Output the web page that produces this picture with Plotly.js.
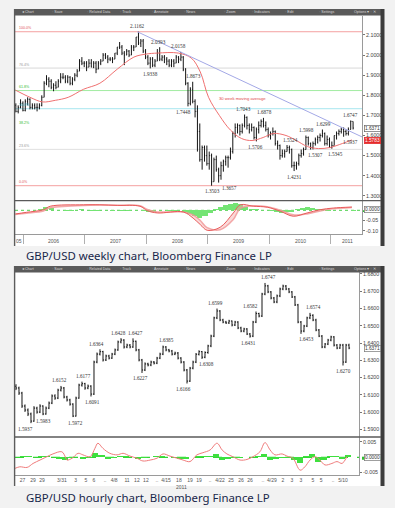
<!DOCTYPE html>
<html><head><meta charset="utf-8">
<script src="https://cdn.plot.ly/plotly-3.0.1.min.js"></script>
<style>html,body{margin:0;padding:0;background:#f2f2f2;}#c{width:395px;height:508px;}</style>
</head><body><div id="c"></div>
<script>
// ---------- WEEKLY (bi-weekly bars) ----------
const wStartDate = '2005-11-18';
const wOpen = [1.75,1.72,1.74,1.76,1.725,1.77,1.78,1.74,1.75,1.74,
1.74,1.75,1.79,1.86,1.88,1.87,1.84,1.85,1.84,1.87,
1.89,1.89,1.87,1.89,1.86,1.88,1.90,1.92,1.97,1.96,
1.96,1.94,1.96,1.94,1.96,1.93,1.96,1.97,2.00,1.99,
1.98,1.98,1.98,2.01,2.04,2.04,2.01,2.00,2.02,2.00,
2.04,2.04,2.09,2.06,2.07,2.02,1.99,1.96,1.98,1.95,
1.97,2.01,1.98,1.99,1.98,1.97,1.95,1.97,1.96,1.99,
1.98,1.99,1.93,1.86,1.76,1.83,1.77,1.72,1.62,1.48,
1.54,1.50,1.46,1.50,1.37,1.48,1.43,1.40,1.45,1.47,
1.49,1.49,1.52,1.61,1.64,1.65,1.62,1.65,1.69,1.65,
1.63,1.64,1.59,1.63,1.65,1.67,1.65,1.63,1.60,1.61,
1.62,1.56,1.55,1.50,1.51,1.52,1.54,1.53,1.45,1.45,
1.46,1.50,1.51,1.53,1.59,1.56,1.54,1.56,1.58,1.59,
1.60,1.61,1.56,1.58,1.54,1.55,1.60,1.61,1.62,1.63,
1.62,1.61,1.63,1.67];
const wHigh = [1.76,1.75,1.78,1.77,1.78,1.79,1.785,1.76,1.76,1.76,
1.76,1.80,1.87,1.90,1.89,1.88,1.86,1.87,1.88,1.91,
1.91,1.90,1.90,1.895,1.89,1.91,1.93,1.98,1.99,1.97,
1.97,1.98,1.98,1.97,1.97,1.97,1.98,2.01,2.01,2.00,
1.99,1.99,2.01,2.04,2.065,2.05,2.02,2.03,2.025,2.05,
2.05,2.09,2.1162,2.08,2.08,2.03,2.00,1.99,1.99,1.98,
2.03,2.0393,2.00,2.00,1.99,1.98,1.98,1.98,2.00,1.995,
2.0158,1.995,1.935,1.865,1.84,1.8673,1.78,1.75,1.66,1.55,
1.55,1.55,1.52,1.51,1.49,1.50,1.44,1.47,1.48,1.50,
1.50,1.54,1.62,1.66,1.66,1.655,1.66,1.7043,1.695,1.66,
1.66,1.645,1.64,1.67,1.68,1.6878,1.67,1.64,1.62,1.64,
1.625,1.575,1.555,1.53,1.53,1.5524,1.55,1.535,1.47,1.47,
1.51,1.53,1.54,1.5998,1.595,1.565,1.57,1.59,1.60,1.61,
1.6299,1.615,1.60,1.59,1.57,1.60,1.62,1.63,1.64,1.64,
1.63,1.64,1.6747,1.67];
const wLow = [1.715,1.71,1.735,1.72,1.72,1.75,1.73,1.73,1.73,1.72,
1.73,1.745,1.79,1.85,1.84,1.83,1.82,1.83,1.84,1.86,
1.88,1.86,1.86,1.85,1.85,1.87,1.89,1.92,1.95,1.94,
1.92,1.94,1.94,1.935,1.91,1.93,1.95,1.97,1.98,1.96,
1.97,1.96,1.98,2.00,2.03,2.00,1.95,2.00,1.99,2.00,
2.02,2.04,2.05,2.04,2.01,1.98,1.95,1.9338,1.94,1.94,
1.97,1.97,1.97,1.96,1.95,1.94,1.94,1.94,1.96,1.96,
1.97,1.92,1.85,1.7448,1.75,1.76,1.69,1.52,1.47,1.43,
1.47,1.45,1.43,1.3503,1.37,1.42,1.3657,1.38,1.42,1.45,
1.44,1.48,1.51,1.59,1.61,1.60,1.61,1.64,1.63,1.61,
1.62,1.58,1.5706,1.61,1.64,1.64,1.62,1.59,1.58,1.60,
1.55,1.53,1.48,1.49,1.49,1.52,1.51,1.44,1.4231,1.43,
1.45,1.49,1.50,1.53,1.55,1.53,1.5307,1.55,1.56,1.57,
1.59,1.55,1.55,1.54,1.5345,1.55,1.58,1.60,1.61,1.5937,
1.60,1.60,1.63,1.63];
const wClose = [1.72,1.74,1.76,1.725,1.77,1.78,1.74,1.75,1.74,1.74,
1.75,1.79,1.86,1.88,1.87,1.84,1.85,1.84,1.87,1.89,
1.89,1.87,1.89,1.86,1.88,1.90,1.92,1.97,1.96,1.96,
1.94,1.96,1.94,1.96,1.93,1.96,1.97,2.00,1.99,1.98,
1.98,1.98,2.01,2.04,2.04,2.01,2.00,2.02,2.00,2.04,
2.04,2.09,2.06,2.07,2.02,1.99,1.96,1.98,1.95,1.97,
2.01,1.98,1.99,1.98,1.97,1.95,1.97,1.96,1.99,1.98,
1.99,1.93,1.86,1.76,1.83,1.77,1.72,1.62,1.48,1.54,
1.50,1.46,1.50,1.37,1.48,1.43,1.40,1.45,1.47,1.49,
1.49,1.52,1.61,1.64,1.65,1.62,1.65,1.69,1.65,1.63,
1.64,1.59,1.63,1.65,1.67,1.65,1.63,1.60,1.61,1.62,
1.56,1.55,1.50,1.51,1.52,1.54,1.53,1.45,1.45,1.46,
1.50,1.51,1.53,1.59,1.56,1.54,1.56,1.58,1.59,1.60,
1.61,1.56,1.58,1.54,1.55,1.60,1.61,1.62,1.63,1.62,
1.61,1.63,1.67,1.6371];

// 30 week moving average
const maDates = ['2005-11-15','2006-02-10','2006-04-25','2006-07-10','2006-09-25','2006-12-25','2007-04-01','2007-07-13','2007-10-20','2007-12-31','2008-03-08','2008-07-10','2008-09-25','2008-11-17','2009-01-05','2009-03-10','2009-05-15','2009-07-20','2009-09-20','2009-11-25','2010-01-25','2010-04-10','2010-06-10','2010-08-15','2010-10-20','2010-12-25','2011-03-10','2011-05-06'];
const maVals = [1.826,1.79,1.767,1.775,1.79,1.83,1.86,1.93,1.99,2.005,2.01,2.01,1.985,1.916,1.79,1.70,1.627,1.585,1.575,1.59,1.61,1.60,1.575,1.545,1.535,1.54,1.56,1.578];

// trend line from the 2.1162 top
const trendDates = ['2007-11-09','2011-07-05'];
const trendVals = [2.1162,1.593];

// Fibonacci retracement
const fibHigh = 2.1162, fibLow = 1.3503;
const fibRatios = [1,0.764,0.618,0.5,0.382,0.236,0];
const fibNames = ['100.0%','76.4%','61.8%','50.0%','38.2%','23.6%','0.0%'];

// weekly oscillator
const wOscDates = ['2005-11-15','2006-01-20','2006-05-01','2006-06-10','2006-12-25','2007-04-01','2007-07-13','2007-11-25','2008-01-08','2008-03-08','2008-08-08','2008-10-05','2008-11-17','2008-12-28','2009-03-15','2009-06-01','2009-07-13','2009-09-28','2009-12-20','2010-03-08','2010-05-23','2010-08-13','2010-10-30','2011-01-15','2011-05-06'];
const wMacd = [-0.018,-0.010,0.003,0.020,0.027,0.027,0.024,0.020,-0.002,-0.013,-0.008,-0.038,-0.070,-0.098,-0.083,-0.013,0.027,0.020,0.015,-0.005,-0.029,-0.013,0.003,0.011,0.016];
const wSignal = [-0.020,-0.014,-0.003,0.012,0.024,0.026,0.025,0.022,0.004,-0.008,-0.008,-0.022,-0.050,-0.085,-0.095,-0.045,0.010,0.022,0.017,0.000,-0.022,-0.018,-0.003,0.007,0.014];
const wHistStart = '2005-12-15';
const wHist = [0.002,0.003,0.002,0.002,0.006,0.015,0.012,0.003,0.002,-0.001,-0.002,0.002,0.004,
0.001,-0.002,-0.002,0.002,0.000,-0.002,0.003,-0.002,-0.001,0.002,0.003,-0.004,
-0.008,-0.006,0.000,0.001,-0.002,-0.001,0.001,-0.008,-0.018,-0.030,-0.038,-0.030,
-0.012,0.005,0.014,0.024,0.032,0.036,0.030,0.018,0.008,0.004,0.003,0.001,
-0.003,-0.008,-0.012,-0.010,-0.006,0.004,0.012,0.018,0.010,0.006,0.004,-0.002,
0.002,0.003,0.001,0.002,-0.002];

const wLblText = ['2.1162','2.0393','2.0158','1.9338','1.8673','1.7448','1.3503','1.3657','1.7043','1.6878','1.5706','1.5524','1.4231','1.5998','1.5307','1.6299','1.5345','1.5937','1.6747'];
const wLblDate = ['2007-11-09','2008-03-14','2008-07-18','2008-01-22','2008-09-26','2008-09-10','2009-01-23','2009-03-02','2009-08-05','2009-11-16','2009-10-08','2010-04-15','2010-05-20','2010-08-09','2010-09-07','2010-11-04','2011-01-10','2011-03-17','2011-04-28'];
const wLblSide = ['a','a','a','b','a','b','b','b','a','a','b','a','b','a','b','a','b','b','a'];
const wLblDx = [0,0,-1,1,2,-5,1,12,-1,3,0,4,2,0,4,2,3,7,0];

const wLastClose = 1.6371, wLastMA = 1.5783;

// ---------- HOURLY ----------
const hOpen = [1.6150,1.6140,1.6111,1.6036,1.6013,1.5990,1.5949,1.6024,1.6001,1.6036,
1.5990,1.6024,1.6053,1.6094,1.6082,1.6128,1.6140,1.6088,1.6071,1.6047,
1.5978,1.6082,1.6157,1.6165,1.6140,1.6151,1.6105,1.6290,1.6336,1.6350,
1.6302,1.6325,1.6313,1.6336,1.6360,1.6406,1.6417,1.6377,1.6388,1.6377,
1.6410,1.6360,1.6302,1.6244,1.6279,1.6273,1.6290,1.6284,1.6313,1.6336,
1.6377,1.6360,1.6354,1.6336,1.6342,1.6313,1.6290,1.6244,1.6180,1.6255,
1.6290,1.6335,1.6350,1.6318,1.6345,1.6383,1.6440,1.6545,1.6585,1.6533,
1.6521,1.6516,1.6527,1.6504,1.6521,1.6487,1.6469,1.6481,1.6452,1.6440,
1.6521,1.6570,1.6556,1.6683,1.6730,1.6695,1.6660,1.6637,1.6672,1.6712,
1.6729,1.6712,1.6695,1.6666,1.6620,1.6521,1.6469,1.6498,1.6545,1.6560,
1.6533,1.6475,1.6440,1.6377,1.6394,1.6417,1.6435,1.6388,1.6371,1.6388,
1.6290,1.6388];
const hHigh = [1.6162,1.6148,1.6118,1.6045,1.6022,1.5998,1.6035,1.6032,1.6046,1.6040,
1.6033,1.6062,1.6103,1.6104,1.6136,1.6152,1.6146,1.6095,1.6078,1.6052,
1.6090,1.6165,1.6177,1.6170,1.6160,1.6156,1.6298,1.6345,1.6364,1.6355,
1.6333,1.6332,1.6343,1.6368,1.6414,1.6428,1.6422,1.6396,1.6394,1.6427,
1.6414,1.6366,1.6308,1.6288,1.6286,1.6298,1.6296,1.6320,1.6344,1.6385,
1.6382,1.6366,1.6360,1.6350,1.6348,1.6318,1.6295,1.6250,1.6262,1.6298,
1.6342,1.6358,1.6354,1.6352,1.6390,1.6448,1.6552,1.6599,1.6590,1.6540,
1.6528,1.6534,1.6530,1.6528,1.6526,1.6494,1.6488,1.6486,1.6458,1.6528,
1.6582,1.6575,1.6690,1.6747,1.6736,1.6700,1.6666,1.6680,1.6720,1.6737,
1.6735,1.6718,1.6700,1.6672,1.6626,1.6527,1.6505,1.6552,1.6574,1.6566,
1.6540,1.6481,1.6446,1.6400,1.6424,1.6442,1.6440,1.6394,1.6395,1.6395,
1.6395,1.6396];
const hLow = [1.6128,1.6100,1.6025,1.6002,1.5978,1.5937,1.5945,1.5992,1.5995,1.5983,
1.5986,1.6018,1.6047,1.6072,1.6076,1.6120,1.6080,1.6062,1.6038,1.5972,
1.5975,1.6078,1.6148,1.6130,1.6133,1.6091,1.6100,1.6283,1.6328,1.6293,
1.6296,1.6305,1.6308,1.6330,1.6355,1.6398,1.6368,1.6370,1.6369,1.6372,
1.6352,1.6294,1.6227,1.6238,1.6265,1.6266,1.6276,1.6278,1.6307,1.6330,
1.6352,1.6346,1.6328,1.6330,1.6305,1.6282,1.6236,1.6166,1.6175,1.6248,
1.6284,1.6328,1.6308,1.6312,1.6338,1.6376,1.6434,1.6538,1.6526,1.6514,
1.6510,1.6510,1.6496,1.6498,1.6480,1.6462,1.6462,1.6446,1.6431,1.6434,
1.6515,1.6548,1.6550,1.6676,1.6688,1.6652,1.6630,1.6630,1.6665,1.6705,
1.6705,1.6688,1.6660,1.6614,1.6514,1.6453,1.6462,1.6492,1.6538,1.6526,
1.6468,1.6434,1.6370,1.6370,1.6388,1.6410,1.6380,1.6364,1.6366,1.6270,
1.6285,1.6364];
const hClose = [1.6140,1.6111,1.6036,1.6013,1.5990,1.5949,1.6024,1.6001,1.6036,1.5990,
1.6024,1.6053,1.6094,1.6082,1.6128,1.6140,1.6088,1.6071,1.6047,1.5978,
1.6082,1.6157,1.6165,1.6140,1.6151,1.6105,1.6290,1.6336,1.6350,1.6302,
1.6325,1.6313,1.6336,1.6360,1.6406,1.6417,1.6377,1.6388,1.6377,1.6410,
1.6360,1.6302,1.6244,1.6279,1.6273,1.6290,1.6284,1.6313,1.6336,1.6377,
1.6360,1.6354,1.6336,1.6342,1.6313,1.6290,1.6244,1.6180,1.6255,1.6290,
1.6335,1.6350,1.6318,1.6345,1.6383,1.6440,1.6545,1.6585,1.6533,1.6521,
1.6516,1.6527,1.6504,1.6521,1.6487,1.6469,1.6481,1.6452,1.6440,1.6521,
1.6570,1.6556,1.6683,1.6730,1.6695,1.6660,1.6637,1.6672,1.6712,1.6729,
1.6712,1.6695,1.6666,1.6620,1.6521,1.6469,1.6498,1.6545,1.6560,1.6533,
1.6475,1.6440,1.6377,1.6394,1.6417,1.6435,1.6388,1.6371,1.6388,1.6290,
1.6388,1.6371];

const hTickPos = [2.2,5.7,8.7,15.3,19.9,23.3,26,29.7,32.7,37,40.3,43.3,47,50,54.3,58,61,64.7,68,71.7,75,78,82.3,85.3,89,92,95,99,101.7,105.7,109];
const hTickText = ['27','29','29','3/31','3','5','6','..','4/8','11','12','12','..','4/15','18','19','19','..','4/22','25','26','26','..','4/29','2','3','3','5','5','..','5/10'];

const hLblText = ['1.5937','1.5983','1.6152','1.5972','1.6177','1.6091','1.6364','1.6428','1.6427','1.6227','1.6385','1.6166','1.6308','1.6599','1.6431','1.6582','1.6747','1.6453','1.6574','1.6270'];
const hLblIdx = [5,9,15,19,22,25,28,35,39,42,49,57,62,67,78,80,83,95,98,109];
const hLblSide = ['b','b','a','b','a','b','a','a','a','b','a','b','b','a','b','a','a','b','a','b'];
const hLblDx = [-5,1,-1,3,2,2,-3,-3,2,-2,3,-4,4,-2,-2,-6,3,5,3,0];

const hRedX = [-0.3,1.3,3.7,5.7,8,10.3,12.3,15.3,16.5,17,18.7,20.7,22.3,24.7,26.3,27.3,29,31.3,33.7,35.7,38,40.3,42.3,44.7,47,49,51.3,53.7,55.7,58,60.3,62.3,64.7,67,68.7,70.3,72.3,74.7,77,79,81.3,83,84.7,86.3,88.7,90.3,92.3,94.7,96.3,98,99.7,101.3,103,105.3,107,108.7,110.3];
const hRedY = [-0.0036,-0.0031,-0.0033,-0.0020,-0.0009,0.0002,0.0011,0.0018,0.0000,-0.0009,-0.0003,0.0013,0.0008,0.0002,0.0029,0.0046,0.0029,0.0013,0.0008,0.0013,0.0004,-0.0003,-0.0012,-0.0009,-0.0003,0.0011,0.0004,-0.0003,-0.0009,-0.0014,0.0008,0.0015,0.0024,0.0046,0.0024,0.0011,0.0002,-0.0009,-0.0007,0.0002,0.0018,0.0048,0.0024,0.0008,0.0011,0.0004,-0.0003,-0.0042,-0.0031,-0.0009,0.0002,-0.0009,-0.0025,-0.0020,-0.0014,-0.0020,0.0002];
const hHist = [0.0002,0.0004,0.0004,0.0002,0.0003,0.0003,0.0001,-0.0004,-0.0008,-0.0003,
0.0002,-0.0004,-0.0002,0.0014,0.0006,-0.0005,-0.0003,0.0003,0.0004,0.0001,
-0.0005,-0.0003,0.0002,0.0003,0.0004,0.0002,-0.0002,-0.0004,-0.0005,0.0002,
0.0003,0.0004,0.0005,0.0011,-0.0009,-0.0004,-0.0003,-0.0002,0.0001,0.0002,
0.0005,0.0012,-0.0010,-0.0004,-0.0002,-0.0002,-0.0008,-0.0018,0.0004,0.0012,
-0.0014,-0.0008,0.0005,0.0003,-0.0004,0.0006];
const hLastClose = 1.6371;

// ---------- build ----------
const W = 395, H = 508;
const px = v => v / W, py = v => 1 - v / H;
const addDays = (s, d) => { const t = new Date(s + 'T00:00:00Z'); t.setUTCDate(t.getUTCDate() + d); return t.toISOString().slice(0, 10); };
const addMonths = (s, m) => { const t = new Date(s + 'T00:00:00Z'); t.setUTCMonth(t.getUTCMonth() + m); return t.toISOString().slice(0, 10); };
const wDates = wClose.map((_, i) => addDays(wStartDate, 14 * i));
const wHistDates = wHist.map((_, i) => addMonths(wHistStart, i));
const hIdx = hClose.map((_, i) => i);
const hHistX = hHist.map((_, i) => 2 * i + 0.5);

const barCol = '#151515';
const traces = [
  {type:'ohlc', x:wDates, open:wOpen, high:wHigh, low:wLow, close:wClose, xaxis:'x', yaxis:'y',
   increasing:{line:{color:barCol,width:1}}, decreasing:{line:{color:barCol,width:1}}, tickwidth:0.3, hoverinfo:'skip', showlegend:false},
  {type:'scatter', mode:'lines', x:maDates, y:maVals, xaxis:'x', yaxis:'y', line:{color:'#ef7070',width:1,shape:'spline'}, hoverinfo:'skip', showlegend:false},
  {type:'scatter', mode:'lines', x:trendDates, y:trendVals, xaxis:'x', yaxis:'y', line:{color:'#a3a8e6',width:1}, hoverinfo:'skip', showlegend:false},
  {type:'bar', x:wHistDates, y:wHist, xaxis:'x', yaxis:'y2', width:30*864e5, marker:{color:'#74e474',line:{width:0}}, hoverinfo:'skip', showlegend:false},
  {type:'scatter', mode:'lines', x:wOscDates, y:wSignal, xaxis:'x', yaxis:'y2', line:{color:'rgba(240,150,150,0.8)',width:1.5,shape:'spline'}, hoverinfo:'skip', showlegend:false},
  {type:'scatter', mode:'lines', x:wOscDates, y:wMacd, xaxis:'x', yaxis:'y2', line:{color:'#e85a5a',width:1,shape:'spline'}, fill:'tonexty', fillcolor:'rgba(245,170,170,0.45)', hoverinfo:'skip', showlegend:false},
  {type:'ohlc', x:hIdx, open:hOpen, high:hHigh, low:hLow, close:hClose, xaxis:'x2', yaxis:'y3',
   increasing:{line:{color:barCol,width:1}}, decreasing:{line:{color:barCol,width:1}}, tickwidth:0.35, hoverinfo:'skip', showlegend:false},
  {type:'bar', x:hHistX, y:hHist, xaxis:'x2', yaxis:'y4', width:2, marker:{color:'#3ee03e',line:{width:0}}, hoverinfo:'skip', showlegend:false},
  {type:'scatter', mode:'lines', x:hRedX, y:hRedY, xaxis:'x2', yaxis:'y4', line:{color:'#f07b7b',width:1,shape:'spline'}, hoverinfo:'skip', showlegend:false}
];

const tf = {family:'Liberation Sans, Arial, sans-serif', size:5.3, color:'#444'};
const fourDec = a => a.map(v => v.toFixed(4));
const wPriceTicks = [1.3,1.4,1.5,1.6,1.7,1.8,1.9,2.0,2.1];
const hPriceTicks = [1.59,1.60,1.61,1.62,1.63,1.64,1.65,1.66,1.67,1.68];
const yearBounds = ['2006-01-01','2007-01-01','2008-01-01','2009-01-01','2010-01-01','2011-01-01'];

const shapes = [];
const annotations = [];
const rectP = (x0,y0,x1,y1,fill,layer) => shapes.push({type:'rect',xref:'paper',yref:'paper',x0:px(x0),x1:px(x1),y0:py(y1),y1:py(y0),fillcolor:fill,line:{width:0},layer:layer||'below'});
const lineP = (x0,y0,x1,y1,col,w) => shapes.push({type:'line',xref:'paper',yref:'paper',x0:px(x0),x1:px(x1),y0:py(y0),y1:py(y1),line:{color:col,width:w},layer:'above'});

// frames
[[9,246],[266,486]].forEach(([t,b]) => {
  rectP(14,t,383,b,'#ffffff');
  rectP(14,t,381,t+6.5,'#5a5a5a','above');
  rectP(380.5,t,384.5,b,'#3c3c3c','above');
  lineP(14.6,t,14.6,b,'#5c5c5c',1.4);
});
lineP(15,200.7,381,200.7,'#5a5a5a',1.3);
lineP(15,437,381,437,'#5a5a5a',1.3);

// toolbar labels
const tbItems = [[20,'◂ Chart'],[50,'▫ Save'],[85,'▫ Related Data'],[118,'▫ Track'],[150,'▫ Annotate'],[182,'▫ News'],[222,'▫ Zoom'],[250,'▫ Indicators'],[283,'▫ Edit'],[317,'▫ Settings'],[352,'Options ▾ ▫ ✕']];
[12.3, 269.3].forEach(yy => tbItems.forEach(([x,t]) => annotations.push({xref:'paper',yref:'paper',x:px(x),y:py(yy),xanchor:'left',yanchor:'middle',text:t,showarrow:false,font:{family:'Liberation Sans',size:3.6,color:'#d8d8d8'}})));

// fib lines
const fibLine = ['#f4a0a0','#d9d9d9','#a2eca2','#a8e6ef','rgba(0,0,0,0)','#e0e0e0','#f4a0a0'];
const fibTxt = ['#e25555','#999999','#33bb33','#33b0c4','#33bb33','#999999','#e25555'];
fibRatios.forEach((r,i) => {
  const lv = fibLow + r * (fibHigh - fibLow);
  shapes.push({type:'line',xref:'x domain',yref:'y',x0:0,x1:1,y0:lv,y1:lv,line:{color:fibLine[i],width:1},layer:'below'});
  annotations.push({xref:'paper',yref:'y',x:px(16.5),y:lv,xanchor:'left',yanchor:'bottom',text:fibNames[i],showarrow:false,font:{family:'Liberation Sans',size:3.6,color:fibTxt[i]},yshift:-0.5});
});
// zero lines in oscillators
shapes.push({type:'line',xref:'x domain',yref:'y2',x0:0,x1:1,y0:0,y1:0,line:{color:'#4ad04a',width:1,dash:'dot'},layer:'below'});
shapes.push({type:'line',xref:'x2 domain',yref:'y4',x0:0,x1:1,y0:0,y1:0,line:{color:'#33d633',width:1.2,dash:'dash'},layer:'below'});

// point labels
const lblFont = {family:'Liberation Serif, DejaVu Serif, serif', size:5.2, color:'#333'};
wLblText.forEach((t,i) => annotations.push({xref:'x',yref:'y',x:wLblDate[i],y:parseFloat(t),text:t,showarrow:false,font:lblFont,
  yanchor:wLblSide[i]==='a'?'bottom':'top',yshift:wLblSide[i]==='a'?0.5:-0.5,xshift:wLblDx[i]}));
hLblText.forEach((t,i) => annotations.push({xref:'x2',yref:'y3',x:hLblIdx[i],y:parseFloat(t),text:t,showarrow:false,font:lblFont,
  yanchor:hLblSide[i]==='a'?'bottom':'top',yshift:hLblSide[i]==='a'?0.5:-0.5,xshift:hLblDx[i]}));

annotations.push({xref:'paper',yref:'paper',x:px(217),y:py(98),xanchor:'left',yanchor:'middle',text:'30 week moving average',showarrow:false,font:{family:'Liberation Sans',size:4.2,color:'#e04848'}});

// year labels weekly
const yrLbl = [['2005-12-08','05'],['2006-07-02','2006'],['2007-07-02','2007'],['2008-07-02','2008'],['2009-07-02','2009'],['2010-07-02','2010'],['2011-04-08','2011']];
yrLbl.forEach(([d,t]) => annotations.push({xref:'x',yref:'paper',x:d,y:py(241),yanchor:'middle',text:t,showarrow:false,font:{family:'Liberation Sans',size:5,color:'#555'}}));
annotations.push({xref:'x2',yref:'paper',x:55.3,y:py(486.5),yanchor:'middle',text:'2011',showarrow:false,font:{family:'Liberation Sans',size:5,color:'#555'}});

// value boxes on right axis
const box = (yref,y,t,bg,fc,bc) => annotations.push({xref:'paper',yref:yref,x:px(363.5),y:y,xanchor:'left',yanchor:'middle',text:t,showarrow:false,
  font:{family:'Liberation Sans',size:4.8,color:fc},bgcolor:bg,bordercolor:bc,borderwidth:0.7,borderpad:0.2});
box('y',wLastClose,wLastClose.toFixed(4),'#ffffff','#333','#666');
box('y',wLastMA-0.004,wLastMA.toFixed(4),'#e52b2b','#ffffff','#e52b2b');
shapes.push({type:'rect',xref:'paper',yref:'y2',x0:px(363),x1:px(381),y0:-0.008,y1:0.0,fillcolor:'#2fbf2f',line:{width:0},layer:'above'});
box('y2',0.002,'0.0000','#ffffff','#333','#777');
box('y3',hLastClose,hLastClose.toFixed(4),'#ffffff','#333','#777');
shapes.push({type:'rect',xref:'paper',yref:'y4',x0:px(362),x1:px(381),y0:-0.0008,y1:0.0002,fillcolor:'#2fbf2f',line:{width:0},layer:'above'});
box('y4',0.0001,'0.0000','#ffffff','#333','#777');

// captions
const capFont = {family:'Noto Sans, Open Sans, sans-serif', size:11.4, color:'#17264a'};
annotations.push({xref:'paper',yref:'paper',x:px(23.5),y:py(255.5),xanchor:'left',yanchor:'middle',text:'GBP/USD weekly chart, Bloomberg Finance LP',showarrow:false,font:capFont});
annotations.push({xref:'paper',yref:'paper',x:px(23.5),y:py(497.5),xanchor:'left',yanchor:'middle',text:'GBP/USD hourly chart, Bloomberg Finance LP',showarrow:false,font:capFont});

const axBase = {showgrid:false, zeroline:false, showline:true, linecolor:'#9a9a9a', linewidth:1, fixedrange:true, tickfont:tf};
const layout = {
  width:W, height:H, margin:{l:0,r:0,t:0,b:0}, paper_bgcolor:'#f2f2f2', plot_bgcolor:'#ffffff',
  showlegend:false, bargap:0, barmode:'overlay', dragmode:false,
  xaxis: Object.assign({}, axBase, {domain:[px(15),px(362)], anchor:'y2', type:'date', range:['2005-11-13','2011-07-05'],
    tickvals:yearBounds, ticktext:yearBounds.map(()=>''), ticks:'outside', ticklen:9, tickcolor:'#b0b0b0', tickwidth:1, rangeslider:{visible:false}}),
  yaxis: Object.assign({}, axBase, {domain:[py(200.7),py(16)], anchor:'x', side:'right', range:[1.2756,2.1945],
    tickvals:wPriceTicks, ticktext:fourDec(wPriceTicks), ticks:'outside', ticklen:2, tickcolor:'#777'}),
  yaxis2: Object.assign({}, axBase, {domain:[py(234),py(200.7)], anchor:'x', side:'right', range:[-0.116,0.047],
    tickvals:[-0.05,-0.10], ticktext:['-0.05','-0.10'], ticks:'outside', ticklen:2, tickcolor:'#777'}),
  xaxis2: Object.assign({}, axBase, {domain:[px(15),px(359)], anchor:'y4', range:[-0.33,114.33],
    tickvals:hTickPos, ticktext:hTickText, ticks:'', tickfont:{family:'Liberation Sans',size:5,color:'#555'}, rangeslider:{visible:false}}),
  yaxis3: Object.assign({}, axBase, {domain:[py(437),py(271)], anchor:'x2', side:'right', range:[1.5857,1.6816],
    tickvals:hPriceTicks, ticktext:fourDec(hPriceTicks), ticks:'outside', ticklen:2, tickcolor:'#777'}),
  yaxis4: Object.assign({}, axBase, {domain:[py(475),py(437)], anchor:'x2', side:'right', range:[-0.00578,0.00663],
    tickvals:[0.005,-0.005], ticktext:['0.005','-0.005'], ticks:'outside', ticklen:2, tickcolor:'#777'}),
  shapes:shapes, annotations:annotations
};
Plotly.newPlot('c', traces, layout, {staticPlot:true, displayModeBar:false});
</script></body></html>
